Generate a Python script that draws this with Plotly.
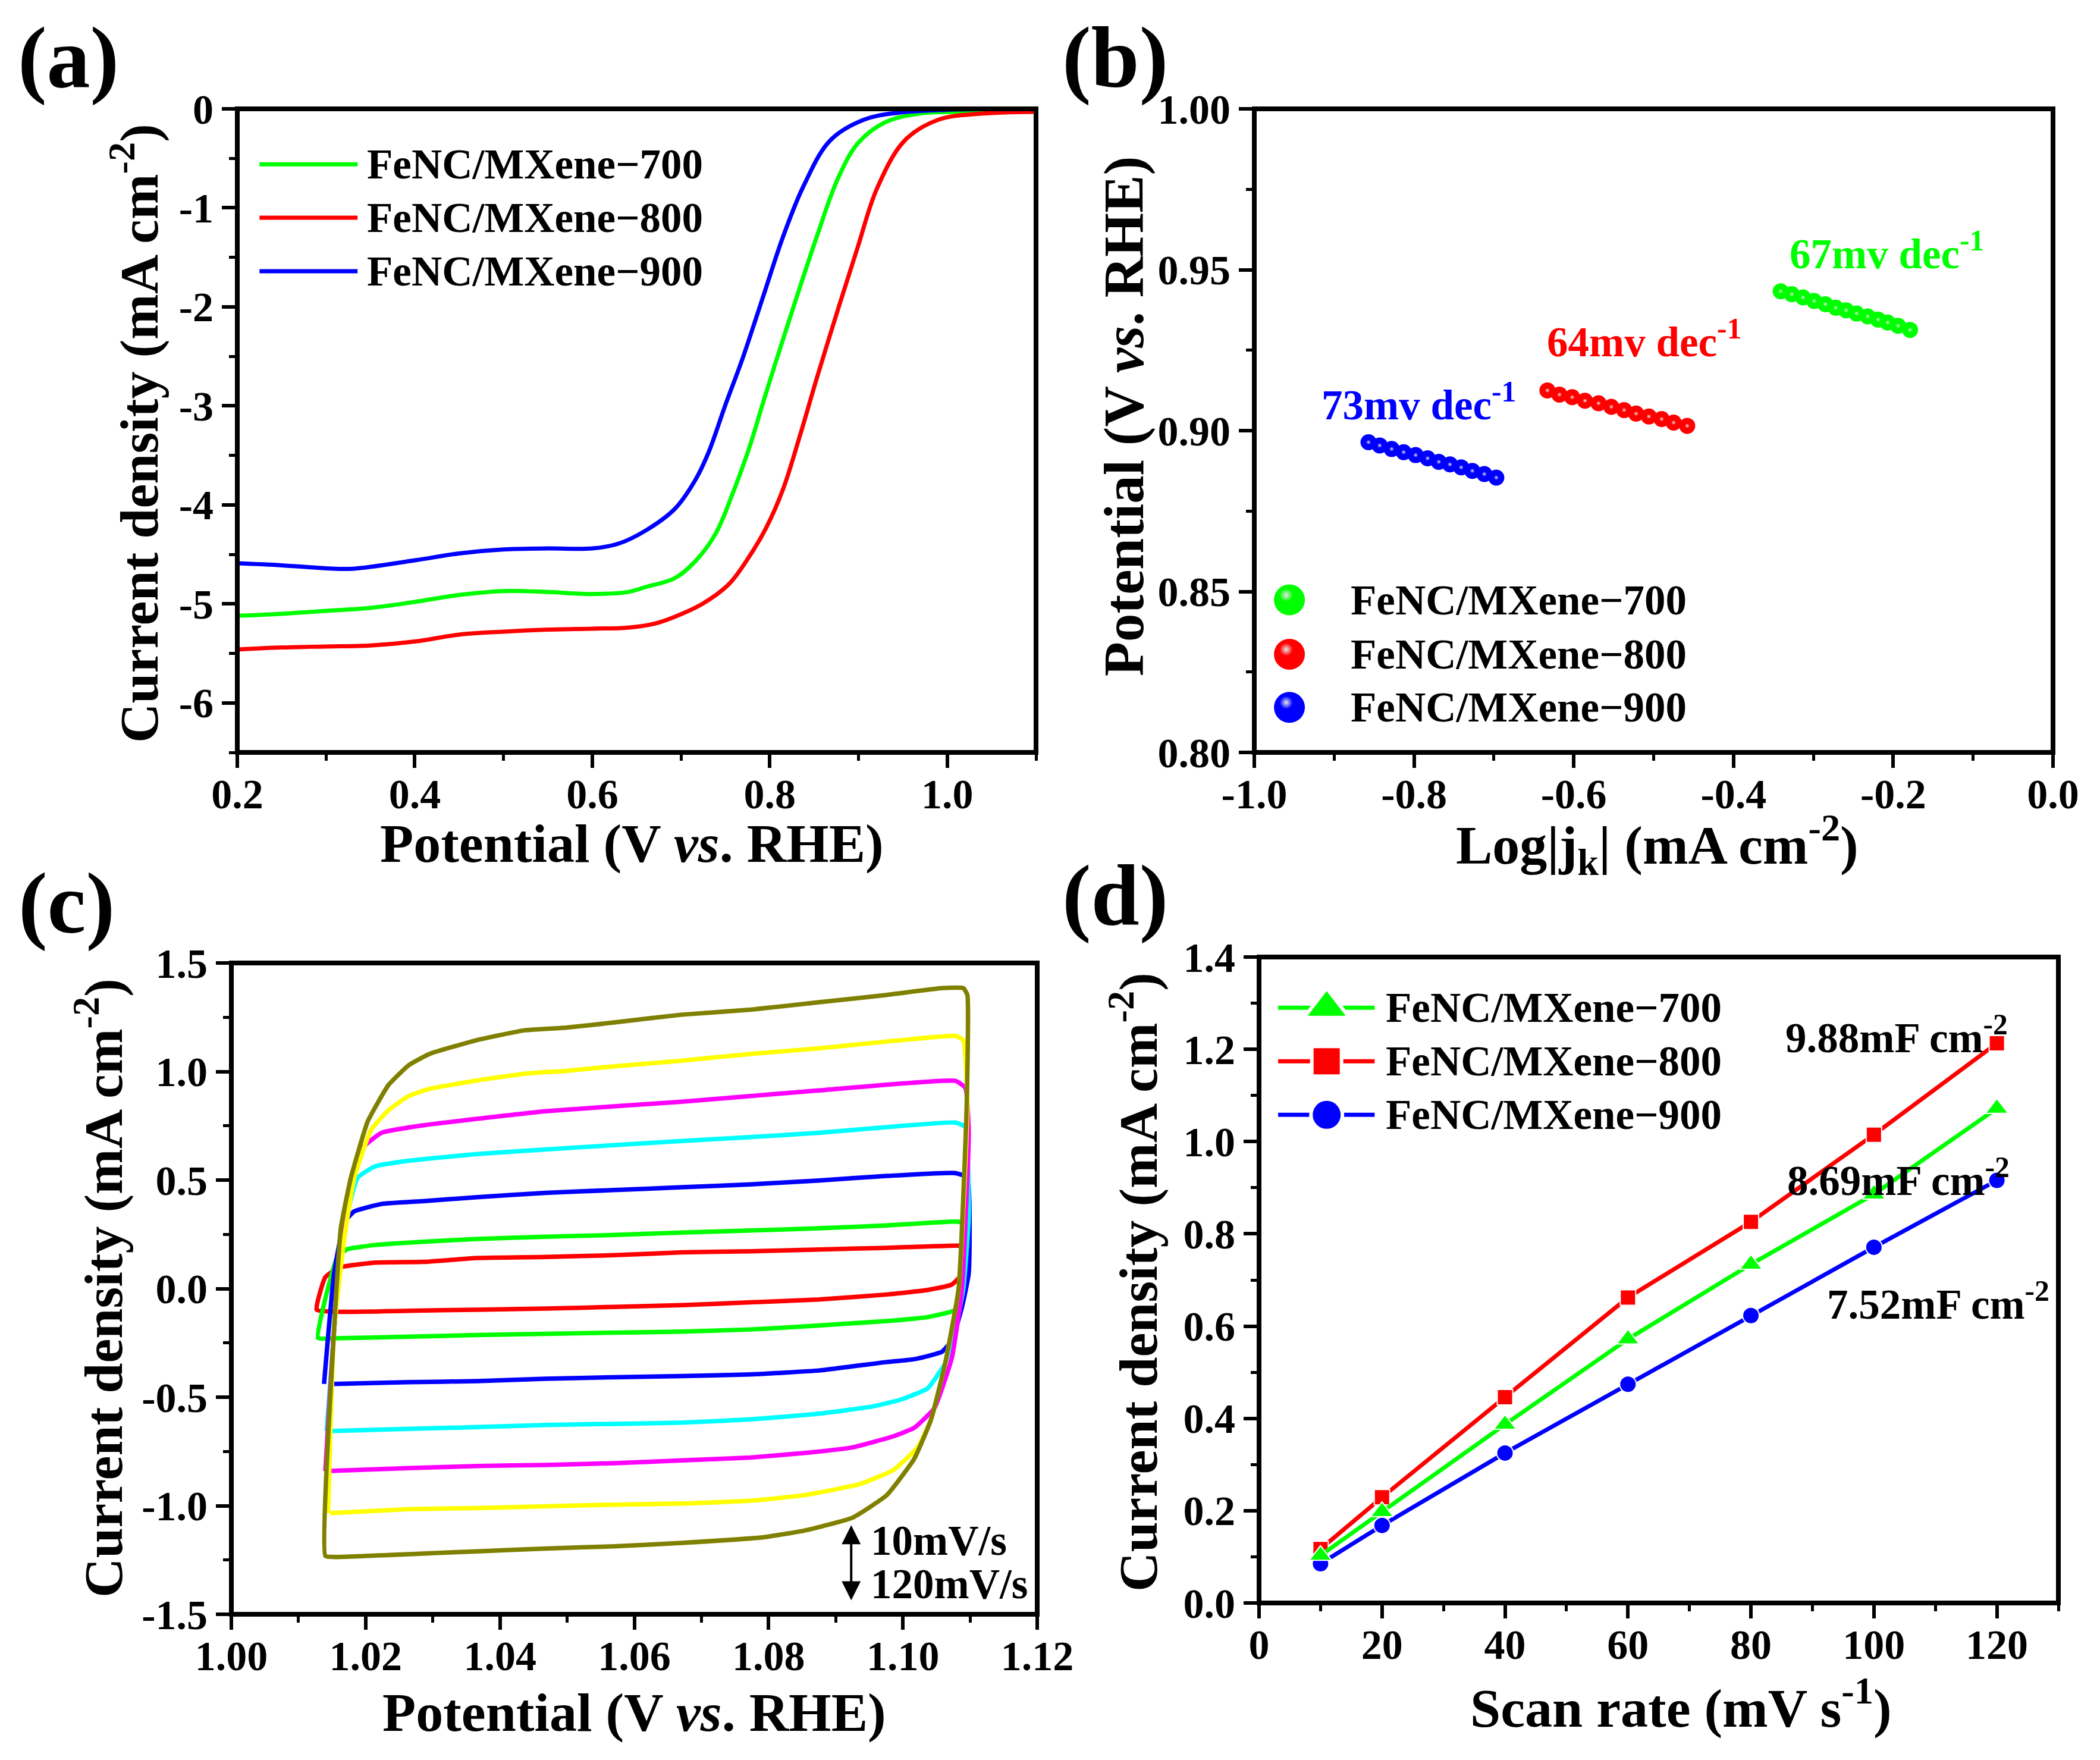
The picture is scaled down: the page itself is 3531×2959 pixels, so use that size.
import plotly.graph_objects as go
from plotly.subplots import make_subplots

# the page body has an 8px margin, figure is sized to fit inside it
PAGE_W, PAGE_H, BODY_MARGIN = 3531, 2959, 8
WIDTH, HEIGHT = PAGE_W - 2 * BODY_MARGIN, PAGE_H - 2 * BODY_MARGIN
FONT = "Liberation Serif"
GREEN, RED, BLUE = "#00ff00", "#ff0000", "#0000ff"
CYAN, MAGENTA, YELLOW, OLIVE = "#00ffff", "#ff00ff", "#ffff00", "#808000"
NAMES = ["FeNC/MXene−700", "FeNC/MXene−800", "FeNC/MXene−900"]

# (a) polarisation curves
lsv_x_700 = [0.2, 0.25, 0.3, 0.35, 0.4, 0.45, 0.5, 0.55, 0.6, 0.64, 0.66, 0.693, 0.716, 0.739, 0.758, 0.777, 0.792, 0.807, 0.83, 0.853, 0.876, 0.899, 0.929, 0.967, 1.02, 1.1]
lsv_y_700 = [-5.12, -5.1, -5.07, -5.04, -4.98, -4.91, -4.87, -4.88, -4.9, -4.88, -4.83, -4.74, -4.57, -4.29, -3.89, -3.42, -2.98, -2.55, -1.91, -1.29, -0.72, -0.35, -0.14, -0.05, -0.03, -0.02]
lsv_x_800 = [0.2, 0.25, 0.3, 0.35, 0.4, 0.45, 0.5, 0.55, 0.6, 0.64, 0.67, 0.693, 0.724, 0.754, 0.777, 0.796, 0.815, 0.834, 0.853, 0.876, 0.899, 0.921, 0.952, 0.99, 1.036, 1.1]
lsv_y_800 = [-5.46, -5.44, -5.43, -5.42, -5.38, -5.31, -5.28, -5.26, -5.25, -5.24, -5.2, -5.13, -5.0, -4.8, -4.52, -4.23, -3.84, -3.3, -2.72, -2.05, -1.4, -0.8, -0.32, -0.11, -0.05, -0.03]
lsv_x_900 = [0.2, 0.25, 0.3, 0.33, 0.4, 0.45, 0.5, 0.55, 0.6, 0.63, 0.66, 0.693, 0.716, 0.731, 0.75, 0.769, 0.792, 0.815, 0.838, 0.868, 0.906, 0.944, 0.998, 1.1]
lsv_y_900 = [-4.59, -4.61, -4.64, -4.645, -4.56, -4.49, -4.45, -4.44, -4.44, -4.39, -4.26, -4.04, -3.75, -3.47, -2.99, -2.53, -1.91, -1.29, -0.78, -0.32, -0.11, -0.04, -0.01, 0.0]

# (b) Tafel points
tafel_x_700 = [-0.341, -0.327, -0.313, -0.299, -0.285, -0.272, -0.259, -0.246, -0.232, -0.219, -0.207, -0.194, -0.179]
tafel_y_700 = [0.9433, 0.9424, 0.9414, 0.9403, 0.9393, 0.9382, 0.9374, 0.9364, 0.9355, 0.9345, 0.9336, 0.9326, 0.9313]
tafel_x_800 = [-0.633, -0.618, -0.602, -0.586, -0.569, -0.553, -0.537, -0.522, -0.506, -0.49, -0.475, -0.458]
tafel_y_800 = [0.9125, 0.9112, 0.9104, 0.9093, 0.9085, 0.9074, 0.9064, 0.9053, 0.9044, 0.9036, 0.9025, 0.9015]
tafel_x_900 = [-0.857, -0.843, -0.828, -0.813, -0.798, -0.783, -0.769, -0.755, -0.741, -0.727, -0.712, -0.697]
tafel_y_900 = [0.8964, 0.8954, 0.8943, 0.8933, 0.8924, 0.8914, 0.8903, 0.8895, 0.8886, 0.8875, 0.8865, 0.8854]

# (c) CV loops, 10 to 120 mV/s
cv_x_10 = [1.0127, 1.014, 1.016, 1.0214, 1.0285, 1.0366, 1.0468, 1.057, 1.0671, 1.0773, 1.0875, 1.0976, 1.1078, 1.1096, 1.1096, 1.1073, 1.1037, 1.0976, 1.0875, 1.0773, 1.0671, 1.057, 1.0468, 1.0366, 1.0264, 1.0163, 1.0127]
cv_y_10 = [-0.097, 0.053, 0.097, 0.12, 0.123, 0.141, 0.146, 0.154, 0.167, 0.172, 0.18, 0.188, 0.198, 0.193, 0.097, 0.019, -0.006, -0.027, -0.05, -0.063, -0.076, -0.084, -0.092, -0.097, -0.102, -0.107, -0.097]
cv_x_20 = [1.0129, 1.0137, 1.0158, 1.0173, 1.0214, 1.0285, 1.0366, 1.0468, 1.057, 1.0671, 1.0773, 1.0875, 1.0976, 1.1078, 1.1096, 1.1096, 1.1078, 1.1037, 1.0976, 1.0875, 1.0773, 1.0671, 1.057, 1.0468, 1.0366, 1.0264, 1.0153, 1.0129]
cv_y_20 = [-0.227, -0.084, 0.149, 0.182, 0.201, 0.216, 0.229, 0.239, 0.247, 0.258, 0.268, 0.278, 0.291, 0.309, 0.299, 0.071, -0.097, -0.131, -0.149, -0.17, -0.188, -0.198, -0.203, -0.208, -0.214, -0.221, -0.229, -0.227]
cv_x_40 = [1.0138, 1.0153, 1.0168, 1.0183, 1.0224, 1.0285, 1.0366, 1.0468, 1.057, 1.0671, 1.0773, 1.0875, 1.0976, 1.1078, 1.1096, 1.1098, 1.1088, 1.1073, 1.1058, 1.1017, 1.0976, 1.0875, 1.0773, 1.0671, 1.057, 1.0468, 1.0366, 1.0264, 1.0153]
cv_y_40 = [-0.439, 0.071, 0.304, 0.356, 0.39, 0.403, 0.421, 0.441, 0.454, 0.467, 0.48, 0.498, 0.519, 0.532, 0.511, 0.071, -0.084, -0.239, -0.291, -0.325, -0.338, -0.377, -0.395, -0.403, -0.408, -0.415, -0.426, -0.431, -0.439]
cv_x_60 = [1.0142, 1.0153, 1.0168, 1.0188, 1.0214, 1.0264, 1.0366, 1.0468, 1.057, 1.0671, 1.0773, 1.0875, 1.0976, 1.1078, 1.1093, 1.1098, 1.109, 1.1078, 1.1063, 1.1037, 1.0997, 1.0956, 1.0875, 1.0773, 1.0671, 1.057, 1.0468, 1.0366, 1.0264, 1.0147]
cv_y_60 = [-0.656, -0.188, 0.278, 0.511, 0.563, 0.589, 0.62, 0.641, 0.661, 0.68, 0.698, 0.718, 0.744, 0.765, 0.744, 0.33, 0.001, -0.188, -0.343, -0.459, -0.511, -0.542, -0.576, -0.602, -0.617, -0.623, -0.628, -0.638, -0.646, -0.656]
cv_x_80 = [1.014, 1.0153, 1.0168, 1.0193, 1.0224, 1.0285, 1.0468, 1.0671, 1.0875, 1.1078, 1.1093, 1.1098, 1.1088, 1.1073, 1.1047, 1.1017, 1.0986, 1.0925, 1.0854, 1.0773, 1.0671, 1.057, 1.0468, 1.0366, 1.0264, 1.0147]
cv_y_80 = [-0.84, -0.188, 0.278, 0.641, 0.718, 0.752, 0.817, 0.861, 0.913, 0.957, 0.925, 0.718, 0.001, -0.317, -0.55, -0.641, -0.68, -0.731, -0.757, -0.778, -0.791, -0.804, -0.812, -0.817, -0.827, -0.84]
cv_x_100 = [1.0144, 1.0153, 1.0168, 1.0183, 1.0208, 1.0234, 1.0264, 1.0295, 1.0366, 1.0437, 1.0498, 1.057, 1.0671, 1.0773, 1.0875, 1.0976, 1.1078, 1.109, 1.1096, 1.1083, 1.1063, 1.1042, 1.1022, 1.0986, 1.0936, 1.0854, 1.0773, 1.0671, 1.057, 1.0468, 1.0366, 1.0264, 1.0147]
cv_y_100 = [-1.034, -0.188, 0.227, 0.511, 0.731, 0.822, 0.887, 0.92, 0.959, 0.99, 1.003, 1.024, 1.05, 1.081, 1.107, 1.138, 1.164, 1.145, 0.848, 0.001, -0.343, -0.602, -0.731, -0.835, -0.9, -0.951, -0.977, -0.99, -0.995, -1.003, -1.011, -1.016, -1.034]
cv_x_120 = [1.014, 1.0153, 1.0163, 1.0178, 1.0203, 1.0234, 1.0264, 1.0295, 1.0366, 1.0437, 1.0498, 1.057, 1.0671, 1.0773, 1.0875, 1.0976, 1.1058, 1.109, 1.1096, 1.1095, 1.1083, 1.1063, 1.1042, 1.1017, 1.0976, 1.0925, 1.0854, 1.0793, 1.0671, 1.057, 1.0468, 1.0366, 1.0264, 1.0153, 1.014]
cv_y_120 = [-1.231, -0.188, 0.278, 0.511, 0.77, 0.938, 1.029, 1.081, 1.145, 1.19, 1.202, 1.226, 1.262, 1.285, 1.319, 1.353, 1.384, 1.384, 1.353, 0.848, 0.001, -0.343, -0.602, -0.783, -0.951, -1.055, -1.114, -1.145, -1.171, -1.187, -1.197, -1.21, -1.223, -1.236, -1.231]

# (d) capacitive current vs scan rate
scan_rate = [10, 20, 40, 60, 80, 100, 120]
cdl_700 = [0.103, 0.198, 0.387, 0.572, 0.734, 0.886, 1.072]
cdl_800 = [0.117, 0.229, 0.446, 0.662, 0.826, 1.015, 1.213]
cdl_900 = [0.085, 0.168, 0.325, 0.474, 0.623, 0.771, 0.916]

# axis ticks
a_xticks = [0.2, 0.4, 0.6, 0.8, 1.0]
a_xlabels = ["0.2", "0.4", "0.6", "0.8", "1.0"]
a_xminor = [0.3, 0.5, 0.7, 0.9, 1.1]
a_yticks = [0, -1, -2, -3, -4, -5, -6]
a_ylabels = ["0", "-1", "-2", "-3", "-4", "-5", "-6"]
a_yminor = [-0.5, -1.5, -2.5, -3.5, -4.5, -5.5, -6.5]
b_xticks = [-1.0, -0.8, -0.6, -0.4, -0.2, 0.0]
b_xlabels = ["-1.0", "-0.8", "-0.6", "-0.4", "-0.2", "0.0"]
b_xminor = [-0.9, -0.7, -0.5, -0.3, -0.1]
b_yticks = [0.8, 0.85, 0.9, 0.95, 1.0]
b_ylabels = ["0.80", "0.85", "0.90", "0.95", "1.00"]
b_yminor = [0.825, 0.875, 0.925, 0.975]
c_xticks = [1.0, 1.02, 1.04, 1.06, 1.08, 1.1, 1.12]
c_xlabels = ["1.00", "1.02", "1.04", "1.06", "1.08", "1.10", "1.12"]
c_xminor = [1.01, 1.03, 1.05, 1.07, 1.09, 1.11]
c_yticks = [-1.5, -1.0, -0.5, 0.0, 0.5, 1.0, 1.5]
c_ylabels = ["-1.5", "-1.0", "-0.5", "0.0", "0.5", "1.0", "1.5"]
c_yminor = [-1.25, -0.75, -0.25, 0.25, 0.75, 1.25]
d_xticks = [0, 20, 40, 60, 80, 100, 120]
d_xlabels = ["0", "20", "40", "60", "80", "100", "120"]
d_xminor = [10, 30, 50, 70, 90, 110, 130]
d_yticks = [0.0, 0.2, 0.4, 0.6, 0.8, 1.0, 1.2, 1.4]
d_ylabels = ["0.0", "0.2", "0.4", "0.6", "0.8", "1.0", "1.2", "1.4"]
d_yminor = [0.1, 0.3, 0.5, 0.7, 0.9, 1.1, 1.3]


def px(x):
    return (x - BODY_MARGIN) / WIDTH


def py(y):
    return 1 - (y - BODY_MARGIN) / HEIGHT


def bold(size, color="black"):
    return dict(family=FONT, size=size, color=color, weight="bold")


def style_panel(fig, row, col, box, xr, yr, xt, xl, xm, yt, yl, ym):
    """Puts one panel at its pixel box, with Origin style ticks and a frame."""
    left, right, top, bottom = box
    common = dict(
        showgrid=False, zeroline=False, showline=False, automargin=False, ticks="outside", ticklen=25,
        tickwidth=6, tickcolor="black", tickfont=bold(70),
    )
    fig.update_xaxes(
        domain=[px(left), px(right)], range=xr, tickmode="array", tickvals=xt, ticktext=xl, ticklabelstandoff=-16,
        minor=dict(tickmode="array", tickvals=xm, ticks="outside", ticklen=13, tickwidth=5, tickcolor="black"),
        row=row, col=col, **common,
    )
    fig.update_yaxes(
        domain=[py(bottom), py(top)], range=yr, tickmode="array", tickvals=yt, ticktext=yl,
        minor=dict(tickmode="array", tickvals=ym, ticks="outside", ticklen=13, tickwidth=5, tickcolor="black"),
        row=row, col=col, **common,
    )
    fig.add_shape(
        type="rect", xref="paper", yref="paper", x0=px(left), x1=px(right), y0=py(bottom), y1=py(top),
        line=dict(color="black", width=8), layer="above",
    )


def add_page_text(fig, text, x, y, size, angle=0):
    fig.add_annotation(
        text=text, xref="paper", yref="paper", x=px(x), y=py(y), showarrow=False,
        font=bold(size), textangle=angle, xanchor="center", yanchor="middle",
    )


def add_data_text(fig, text, x, y, row, col, color="black", size=71, anchor="center"):
    fig.add_annotation(
        text=text, x=x, y=y, row=row, col=col, showarrow=False,
        font=bold(size, color), xanchor=anchor, yanchor="middle",
    )


def add_spheres(fig, x, y, color, name, row, col, size=27, show_highlight=True):
    fig.add_trace(go.Scatter(
        x=x, y=y, mode="markers", name=name, showlegend=False,
        marker=dict(color=color, size=size),
    ), row=row, col=col)
    if show_highlight:
        fig.add_trace(go.Scatter(
            x=x, y=y, mode="markers", showlegend=False, hoverinfo="skip",
            marker=dict(color=color, size=size * 0.3, gradient=dict(type="radial", color="#e8e8e8")),
        ), row=row, col=col)


fig = make_subplots(rows=2, cols=2)

# (a)
style_panel(fig, 1, 1, (399, 1742, 183, 1265), [0.2, 1.1], [-6.5, 0], a_xticks, a_xlabels, a_xminor, a_yticks, a_ylabels, a_yminor)
for x, y, color, name in [(lsv_x_700, lsv_y_700, GREEN, NAMES[0]), (lsv_x_800, lsv_y_800, RED, NAMES[1]), (lsv_x_900, lsv_y_900, BLUE, NAMES[2])]:
    fig.add_trace(go.Scatter(x=x, y=y, mode="lines", name=name, showlegend=False,
                             line=dict(color=color, width=7, shape="spline", smoothing=1.0)), row=1, col=1)
for name, color, y in zip(NAMES, [GREEN, RED, BLUE], [-0.56, -1.10, -1.64]):
    fig.add_trace(go.Scatter(x=[0.225, 0.3355], y=[y, y], mode="lines", showlegend=False, hoverinfo="skip",
                             line=dict(color=color, width=7)), row=1, col=1)
    add_data_text(fig, name, 0.345, y, 1, 1, anchor="left")

# (b)
style_panel(fig, 1, 2, (2109, 3452, 183, 1265), [-1, 0], [0.8, 1.0], b_xticks, b_xlabels, b_xminor, b_yticks, b_ylabels, b_yminor)
add_spheres(fig, tafel_x_700, tafel_y_700, GREEN, NAMES[0], 1, 2)
add_spheres(fig, tafel_x_800, tafel_y_800, RED, NAMES[1], 1, 2)
add_spheres(fig, tafel_x_900, tafel_y_900, BLUE, NAMES[2], 1, 2)
add_data_text(fig, "67mv dec<sup>-1</sup>", -0.208, 0.956, 1, 2, GREEN)
add_data_text(fig, "64mv dec<sup>-1</sup>", -0.512, 0.9285, 1, 2, RED)
add_data_text(fig, "73mv dec<sup>-1</sup>", -0.794, 0.909, 1, 2, BLUE)
for name, color, y in zip(NAMES, [GREEN, RED, BLUE], [0.8474, 0.8305, 0.814]):
    add_spheres(fig, [-0.956], [y], color, name, 1, 2, size=52, show_highlight=False)
    fig.add_trace(go.Scatter(x=[-0.96], y=[y + 0.0015], mode="markers", showlegend=False, hoverinfo="skip",
                             marker=dict(color=color, size=22, gradient=dict(type="radial", color="#e8e8e8"))), row=1, col=2)
    add_data_text(fig, name, -0.881, y, 1, 2, anchor="left")

# (c)
style_panel(fig, 2, 1, (389, 1744, 1619, 2714), [1.0, 1.12], [-1.5, 1.5], c_xticks, c_xlabels, c_xminor, c_yticks, c_ylabels, c_yminor)
cv_loops = [
    (cv_x_10, cv_y_10, RED, "10 mV/s"), (cv_x_20, cv_y_20, GREEN, "20 mV/s"), (cv_x_40, cv_y_40, BLUE, "40 mV/s"),
    (cv_x_60, cv_y_60, CYAN, "60 mV/s"), (cv_x_80, cv_y_80, MAGENTA, "80 mV/s"), (cv_x_100, cv_y_100, YELLOW, "100 mV/s"),
    (cv_x_120, cv_y_120, OLIVE, "120 mV/s"),
]
for x, y, color, name in cv_loops:
    fig.add_trace(go.Scatter(x=x, y=y, mode="lines", name=name, showlegend=False,
                             line=dict(color=color, width=7.5, shape="spline", smoothing=0.4)), row=2, col=1)
fig.add_annotation(x=1.0923, y=-1.09, ax=1.0923, ay=-1.44, axref="x3", ayref="y3", xref="x3", yref="y3",
                   text="", showarrow=True, arrowside="end+start", arrowhead=2, arrowsize=1.6, arrowwidth=4, arrowcolor="black")
add_data_text(fig, "10mV/s", 1.095, -1.16, 2, 1, anchor="left", size=71)
add_data_text(fig, "120mV/s", 1.095, -1.36, 2, 1, anchor="left", size=71)

# (d)
style_panel(fig, 2, 2, (2117, 3461, 1609, 2695), [0, 130], [0, 1.4], d_xticks, d_xlabels, d_xminor, d_yticks, d_ylabels, d_yminor)
d_series = [
    (cdl_800, RED, "square", 26, NAMES[1], 1.174, 50),
    (cdl_900, BLUE, "circle", 28, NAMES[2], 1.058, 53),
    (cdl_700, GREEN, "triangle-up", 33, NAMES[0], 1.29, 66),
]
for y, color, symbol, size, name, legend_y, legend_size in d_series:
    fig.add_trace(go.Scatter(x=scan_rate, y=y, mode="lines+markers", name=name, showlegend=False,
                             line=dict(color=color, width=7),
                             marker=dict(color=color, symbol=symbol, size=size, line=dict(color="white", width=2))), row=2, col=2)
    fig.add_trace(go.Scatter(x=[3.1, 18.8], y=[legend_y] * 2, mode="lines", showlegend=False, hoverinfo="skip",
                             line=dict(color=color, width=7)), row=2, col=2)
    fig.add_trace(go.Scatter(x=[11], y=[legend_y], mode="markers", showlegend=False, hoverinfo="skip",
                             marker=dict(color=color, symbol=symbol, size=legend_size, line=dict(color="white", width=6))), row=2, col=2)
    add_data_text(fig, name, 20.4, legend_y, 2, 2, anchor="left")
add_data_text(fig, "9.88mF cm<sup>-2</sup>", 103.7, 1.232, 2, 2)
add_data_text(fig, "8.69mF cm<sup>-2</sup>", 104, 0.922, 2, 2)
add_data_text(fig, "7.52mF cm<sup>-2</sup>", 110.5, 0.654, 2, 2)

# titles and panel letters sit at fixed page positions
POTENTIAL = "Potential (V <i>vs</i>. RHE)"
DENSITY = "Current density (mA cm<sup>-2</sup>)"
for text, x, y, angle, size in [
    (POTENTIAL, 1062, 1418, 0, 92), (DENSITY, 227, 729, -90, 92),
    ("Log|j<sub>k</sub>| (mA cm<sup>-2</sup>)", 2786, 1420, 0, 92), (POTENTIAL, 1890, 700, -90, 95),
    (POTENTIAL, 1066, 2879, 0, 92), (DENSITY, 167, 2166, -90, 92),
    ("Scan rate (mV s<sup>-1</sup>)", 2826, 2865, 0, 92), (DENSITY, 1907, 2155, -90, 92),
]:
    add_page_text(fig, text, x, y, size, angle)
for text, x, y in [("(a)", 115, 97), ("(b)", 1875, 97), ("(c)", 112, 1519), ("(d)", 1875, 1506)]:
    add_page_text(fig, text, x, y, 146)

fig.update_layout(
    width=WIDTH, height=HEIGHT, margin=dict(l=0, r=0, t=0, b=0),
    paper_bgcolor="white", plot_bgcolor="white", showlegend=False, font=dict(family=FONT),
)

fig.write_html("out.html")
